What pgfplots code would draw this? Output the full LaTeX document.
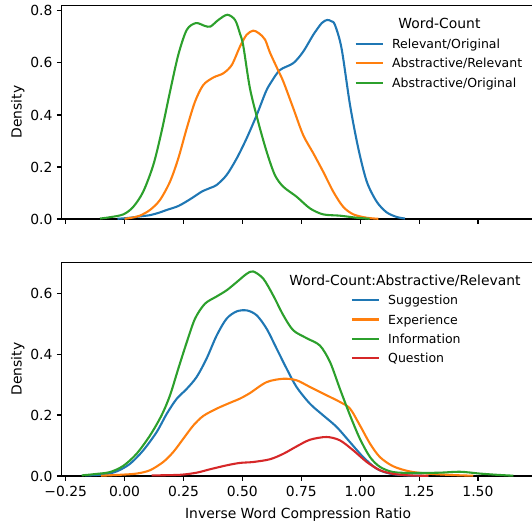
\documentclass[border=0pt]{standalone}
\usepackage{fontspec}
\setmainfont{DejaVu Sans}
\usepackage{pgfplots}
\pgfplotsset{compat=1.18}
\definecolor{tabblue}{HTML}{1F77B4}
\definecolor{taborange}{HTML}{FF7F0E}
\definecolor{tabgreen}{HTML}{2CA02C}
\definecolor{tabred}{HTML}{D62728}
\pgfplotsset{
  myaxis/.style={
    width=340.4pt, height=154pt, scale only axis,
    xmin=-0.267, xmax=1.74, ymin=0,
    xtick={-0.25,0,0.25,0.5,0.75,1,1.25,1.5},
    tick align=outside, xtick pos=left, ytick pos=left,
    major tick length=3.5pt,
    every tick/.style={black, line width=0.8pt},
    axis line style={black, line width=0.8pt},
    /pgf/number format/assume math mode=true,
    ylabel={Density},
    every axis y label/.style={at={(axis description cs:-0.0955,0.5)}, rotate=90, anchor=center, text height=7.3pt, text depth=0pt, inner sep=0pt},
    yticklabel style={anchor=east, inner sep=0pt, text height=7.3pt, text depth=0pt, xshift=-3pt},
    xticklabel style={anchor=north, inner sep=0pt, text height=7.3pt, text depth=0pt, yshift=-4pt},
    legend style={draw=none, fill=none, anchor=north west, inner sep=0pt, outer sep=0pt,
      row sep=7.44pt, column sep=6pt, cells={anchor=west},
      font={\fontsize{9pt}{10.8pt}\selectfont},
      nodes={inner sep=0pt, text height=6.56pt, text depth=0pt}},
    legend image code/.code={\draw[#1, line width=1.5pt] (0pt,0pt) -- (19.5pt,0pt);},
    every axis plot/.append style={line width=1.5pt, smooth, tension=0.5},
  }
}
\begin{document}
\begin{tikzpicture}
\begin{axis}[myaxis, name=top, at={(0,185pt)}, anchor=south west,
  ymax=0.822, ytick={0,0.2,0.4,0.6,0.8}, yticklabels={0.0,0.2,0.4,0.6,0.8},
  xticklabels={},
  legend style={at={(axis description cs:0.6195,0.840)}}]
\addplot[tabblue] coordinates {
(-0.03,0.001)(0.0,0.003)(0.023,0.005)(0.065,0.010)(0.108,0.015)(0.145,0.024)(0.179,0.035)
(0.228,0.050)(0.278,0.076)(0.327,0.105)(0.365,0.120)(0.391,0.131)(0.433,0.169)(0.476,0.233)
(0.518,0.310)(0.561,0.400)(0.60,0.490)(0.625,0.530)(0.66,0.573)(0.716,0.599)(0.758,0.643)
(0.801,0.708)(0.837,0.753)(0.86,0.765)(0.878,0.760)(0.893,0.746)(0.921,0.656)(0.957,0.438)
(0.992,0.272)(1.028,0.144)(1.07,0.067)(1.112,0.026)(1.155,0.008)(1.19,0.002)};
\addlegendentry{Relevant/Original}
\addplot[taborange] coordinates {
(0.0,0.001)(0.03,0.005)(0.065,0.013)(0.108,0.035)(0.15,0.073)(0.193,0.144)(0.228,0.233)
(0.264,0.349)(0.299,0.451)(0.334,0.515)(0.377,0.544)(0.419,0.560)(0.455,0.592)(0.49,0.663)
(0.518,0.708)(0.546,0.724)(0.57,0.714)(0.596,0.690)(0.617,0.640)(0.65,0.575)(0.674,0.528)
(0.716,0.426)(0.758,0.323)(0.801,0.253)(0.843,0.182)(0.886,0.105)(0.928,0.047)(0.971,0.018)
(1.028,0.005)(1.077,0.001)};
\addlegendentry{Abstractive/Relevant}
\addplot[tabgreen] coordinates {
(-0.104,0.002)(-0.062,0.007)(-0.005,0.018)(0.037,0.047)(0.079,0.105)(0.122,0.208)(0.157,0.336)
(0.193,0.490)(0.228,0.631)(0.264,0.727)(0.303,0.753)(0.341,0.742)(0.365,0.740)(0.398,0.765)
(0.436,0.785)(0.469,0.765)(0.49,0.712)(0.504,0.665)(0.532,0.503)(0.567,0.374)(0.603,0.259)
(0.638,0.169)(0.674,0.124)(0.73,0.086)(0.787,0.041)(0.843,0.018)(0.914,0.013)(0.985,0.005)
(1.04,0.001)};
\addlegendentry{Abstractive/Original}
\node[anchor=center, inner sep=0pt, text height=7.3pt, text depth=0pt] at (axis description cs:0.799,0.9134) {Word-Count};
\end{axis}
\begin{axis}[myaxis, name=bot, at={(0,0)}, anchor=south west,
  ymax=0.7016, ytick={0,0.2,0.4,0.6}, yticklabels={0.0,0.2,0.4,0.6},
  xticklabels={−0.25,0.00,0.25,0.50,0.75,1.00,1.25,1.50},
  xlabel={Inverse Word Compression Ratio},
  every axis x label/.style={at={(axis description cs:0.5,-0.1745)}, anchor=center, text height=7.3pt, text depth=0pt, inner sep=0pt},
  legend style={at={(axis description cs:0.6113,0.844)}}]
\addplot[tabblue] coordinates {
(-0.168,0.002)(-0.09,0.005)(-0.034,0.015)(0.023,0.040)(0.079,0.084)(0.136,0.144)(0.179,0.204)
(0.221,0.253)(0.264,0.286)(0.306,0.325)(0.348,0.385)(0.391,0.461)(0.433,0.516)(0.476,0.540)
(0.52,0.543)(0.561,0.527)(0.603,0.483)(0.646,0.417)(0.688,0.352)(0.73,0.292)(0.787,0.237)
(0.843,0.199)(0.90,0.161)(0.957,0.111)(1.013,0.062)(1.07,0.024)(1.126,0.008)(1.197,0.002)
(1.29,0.0005)};
\addlegendentry{Suggestion}
\addplot[taborange] coordinates {
(-0.10,0.001)(-0.02,0.004)(0.051,0.008)(0.108,0.019)(0.164,0.046)(0.207,0.079)(0.249,0.122)
(0.292,0.166)(0.334,0.197)(0.391,0.221)(0.447,0.240)(0.49,0.254)(0.532,0.272)(0.603,0.308)
(0.674,0.319)(0.73,0.314)(0.787,0.292)(0.857,0.265)(0.914,0.243)(0.957,0.221)(0.999,0.166)
(1.042,0.106)(1.084,0.062)(1.14,0.032)(1.211,0.015)(1.30,0.007)(1.40,0.003)(1.48,0.001)};
\addlegendentry{Experience}
\addplot[tabgreen] coordinates {
(-0.182,0.002)(-0.118,0.007)(-0.062,0.013)(-0.006,0.033)(0.051,0.073)(0.108,0.133)(0.157,0.199)
(0.193,0.265)(0.228,0.352)(0.264,0.439)(0.299,0.516)(0.341,0.565)(0.391,0.589)(0.433,0.609)
(0.476,0.636)(0.518,0.663)(0.546,0.671)(0.589,0.647)(0.631,0.592)(0.674,0.527)(0.716,0.478)
(0.773,0.452)(0.829,0.428)(0.872,0.374)(0.914,0.286)(0.957,0.199)(0.999,0.122)(1.042,0.062)
(1.084,0.030)(1.14,0.013)(1.225,0.010)(1.339,0.011)(1.424,0.014)(1.508,0.008)(1.58,0.004)
(1.65,0.001)};
\addlegendentry{Information}
\addplot[tabred] coordinates {
(0.115,0.002)(0.235,0.004)(0.306,0.011)(0.362,0.022)(0.433,0.035)(0.49,0.043)(0.546,0.046)
(0.617,0.055)(0.674,0.073)(0.73,0.097)(0.787,0.119)(0.857,0.128)(0.914,0.117)(0.971,0.084)
(1.028,0.046)(1.084,0.019)(1.14,0.007)(1.21,0.002)(1.29,0.0005)};
\addlegendentry{Question}
\node[anchor=center, inner sep=0pt, text height=7.3pt, text depth=0pt] at (axis description cs:0.7261,0.916) {Word-Count:Abstractive/Relevant};
\end{axis}
\pgfresetboundingbox
\path[use as bounding box] (-44.4pt,-34.6pt) rectangle (338.6pt,342.7pt);
\end{tikzpicture}
\end{document}
